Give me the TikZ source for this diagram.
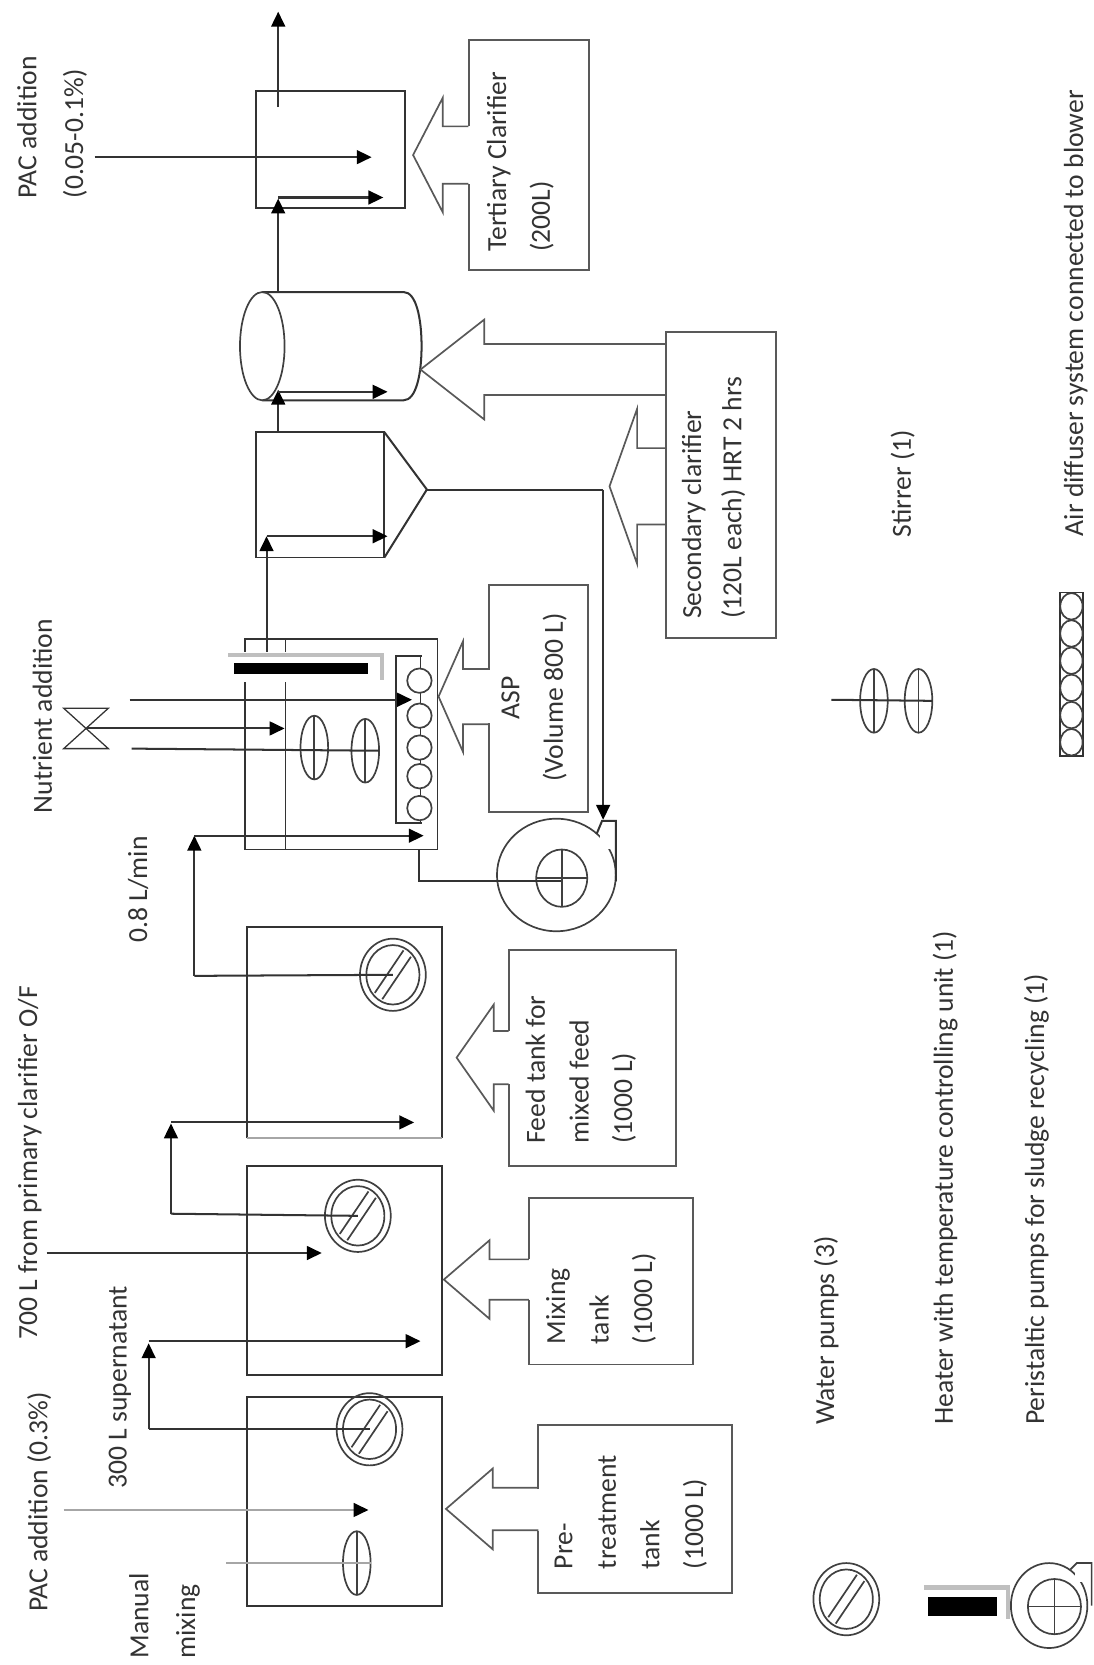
\documentclass[tikz,border=0pt]{standalone}
\usepackage{fontspec}
\setmainfont{Carlito}
\usetikzlibrary{arrows.meta,calc,shapes.geometric}

\newcommand{\labelfont}{\fontsize{26}{41}\selectfont}

\tikzset{
  pipe/.style={line width=1.9pt, draw=black!80},
  thinpipe/.style={line width=1.9pt, draw=black!35},
  arrow/.style={pipe, ->, >={Triangle[length=14pt,width=13pt,color=black,fill=black]}},
  greyarrow/.style={thinpipe, ->, >={Triangle[length=14pt,width=13pt,color=black,fill=black]}},
  tank/.style={rectangle, draw=black!80, line width=1.8pt, inner sep=0pt, outer sep=0pt},
  callbox/.style={rectangle, draw=black!65, line width=1.8pt, inner sep=0pt, outer sep=0pt},
  lbl/.style={rotate=90, anchor=west, inner sep=0pt, align=left, text=black!80, font=\labelfont},
  oval/.style={ellipse, draw=black!75, line width=1.6pt, inner sep=0pt, outer sep=0pt},
}

% big hollow arrow: tip x, y, head base x, head half, shaft half, box x
\newcommand{\bigarrow}[6]{
  \draw[draw=black!65, line width=1.6pt] (#6,#2-#5) -- (#3,#2-#5) -- (#3,#2-#4) -- (#1,#2)
    -- (#3,#2+#4) -- (#3,#2+#5) -- (#6,#2+#5);
}
% water pump: name, centre
\newcommand{\waterpump}[2]{
  \node[oval, minimum width=62pt, minimum height=68pt] (#1) at #2 {};
  \node[oval, minimum width=50pt, minimum height=56pt] (#1eye) at (#1) {};
  \draw[oval] ([shift={(-17,17)}]#1.center) -- ([shift={(10,-23)}]#1.center);
  \draw[oval] ([shift={(-10,23)}]#1.center) -- ([shift={(17,-17)}]#1.center);
}
% stirrer paddle: name, centre
\newcommand{\paddle}[2]{
  \node[oval, minimum width=26pt, minimum height=60pt] (#1) at #2 {};
  \draw[oval] (#1.north) -- (#1.south);
}

\begin{document}
\begin{tikzpicture}[x=1pt, y=-1pt]
  \useasboundingbox (0,0) rectangle (1030,1568);

  % Tanks, left to right on the page's long side
  \node[tank, minimum width=183pt, minimum height=196pt] (pretreat) at (324.5,1414) {};
  \node[tank, minimum width=183pt, minimum height=197pt] (mixing)   at (324.5,1196.5) {};
  \draw[tank] (233,1072) -- (233,873) -- (416,873) -- (416,1072);
  \draw[thinpipe] (233,1072) -- (416,1072);
  \coordinate (feedtank) at (324.5,972.5);
  \node[tank, minimum width=181pt, minimum height=198pt] (asp) at (321.5,701) {};
  \draw[tank, line width=1.2pt] (269,602) -- (269,800);
  \node[tank, minimum width=121pt, minimum height=118pt] (clarifier) at (301.5,466) {};
  \draw[pipe] (362,407) -- (402,461) -- (362,525);
  \draw[pipe] (247,275) -- (380,275) .. controls (392,275) and (397,300) .. (397,326)
    .. controls (397,352) and (392,377) .. (380,377) -- (247,377);
  \node[oval, minimum width=42pt, minimum height=102pt] (drum) at (247,326) {};
  \node[tank, minimum width=140pt, minimum height=110pt] (tertiary) at (311,141) {};

  % Callout boxes
  \node[callbox, minimum width=182pt, minimum height=158pt] (pretreatbox) at (598,1421) {};
  \node[callbox, minimum width=155pt, minimum height=157pt] (mixingbox)   at (575.5,1206.5) {};
  \node[callbox, minimum width=158pt, minimum height=203pt] (feedbox)     at (558,996.5) {};
  \node[callbox, minimum width=93pt,  minimum height=214pt] (aspbox)      at (507,657.5) {};
  \node[callbox, minimum width=104pt, minimum height=288pt] (secondbox)   at (679,457) {};
  \node[callbox, minimum width=113pt, minimum height=216pt] (tertiarybox) at (498,146) {};
  \fill[white] (459,631) rectangle (463,681);
  \fill[white] (505,1402) rectangle (509,1442);
  \fill[white] (496,1186) rectangle (500,1224);
  \fill[white] (477,971) rectangle (481,1021);
  \fill[white] (439,119) rectangle (443,173);
  \bigarrow{420}{1421}{464}{38}{20}{507}
  \bigarrow{418}{1205}{461}{37}{19}{498}
  \bigarrow{430}{996}{465}{50}{25}{479}
  \bigarrow{413}{656}{436}{52}{26}{460}
  \bigarrow{396}{348}{456}{47}{24}{627}
  \bigarrow{574}{458}{600}{73}{36}{627}
  \bigarrow{389}{146}{417}{54}{27}{441}

  % Pumps in the tanks
  \waterpump{pumpa}{(348,1346)}
  \waterpump{pumpb}{(337,1145)}
  \waterpump{pumpc}{(370,918)}

  % Stirrers
  \paddle{manual}{(336,1472)}
  \paddle{stirA}{(296,704)}
  \paddle{stirB}{(344,707)}

  % Air diffuser in the ASP
  \draw[pipe, line width=1.5pt] (397,618) -- (373,618) -- (373,775) -- (397,775);
  \draw[pipe, line width=1.5pt] (396,618) -- (396,775);
  \foreach \name/\y in {a/641, b/674, c/704, d/731, e/761}
    \node[oval, fill=white, minimum width=23pt, minimum height=23pt] (air\name) at (395,\y) {};

  % Free ends and corners
  \foreach \name/\x/\y in {pacin/60/1422, pacend/347/1422, manualin/213/1472,
      cornera/140/1346, risera/140/1265, landa/140/1263, enda/396/1263,
      cornerb/161/1143, riserb/161/1058, landb/161/1057, endb/390/1057,
      primaryin/44/1180, primaryend/303/1180,
      cornerc/183/919, riserc/183/787, landc/183/787, endc/399/787,
      nutrientin/122/659, nutrientend/388/659, valveend/268/686, stirin/124/705,
      heatout/251/617, riserd/251/505, landd/251/505, endd/365/505,
      clarout/262/407, risere/262/367, lande/262/369, ende/365/369,
      drumout/262/275, riserf/262/187, landf/262/186, endf/361/186,
      effluent/262/101, effluentend/262/11, pacbin/89/148, pacbend/350/148,
      recyclecorner/568/461, recycleend/568/772, aspout/395/800, blowin/395/830, blowhub/528/830}
    \coordinate (\name) at (\x,\y);

  % Connectors
  \draw[greyarrow] (pacin) -- (pacend);
  \draw[thinpipe] (manualin) -- (manual.east);
  \draw[pipe] (pumpa.center) -- (cornera);
  \draw[arrow] (cornera) -- (risera);
  \draw[arrow] (landa) -- (enda);
  \draw[pipe] (pumpb.center) -- (cornerb);
  \draw[arrow] (cornerb) -- (riserb);
  \draw[arrow] (landb) -- (endb);
  \draw[arrow] (primaryin) -- (primaryend);
  \draw[pipe] (pumpc.center) -- (cornerc);
  \draw[arrow] (cornerc) -- (riserc);
  \draw[arrow] (landc) -- (endc);
  \draw[arrow] (nutrientin) -- (nutrientend);
  \draw[pipe] (stirin) -- (stirB.east);
  \draw[arrow] (heatout) -- (riserd);
  \draw[arrow] (landd) -- (endd);
  \draw[arrow] (clarout) -- (risere);
  \draw[arrow] (lande) -- (ende);
  \draw[arrow] (drumout) -- (riserf);
  \draw[arrow] (landf) -- (endf);
  \draw[arrow] (effluent) -- (effluentend);
  \draw[arrow] (pacbin) -- (pacbend);
  \draw[pipe] (402,461) -- (recyclecorner);
  \draw[arrow] (recyclecorner) -- (recycleend);

  % Valve on the nutrient line
  \coordinate (valve) at (82,686);
  \draw[pipe, line width=1.2pt] (60,667) -- (102,667) -- (60,705) -- (102,705) -- cycle;
  \draw[arrow] (valve) -- (valveend);

  % Heater in the ASP
  \fill[white] (214,614) rectangle (362,642);
  \draw[draw=black!25, line width=4pt] (215,617) -- (360,617) -- (360,640);
  \node[rectangle, fill=black, inner sep=0pt, minimum width=126pt, minimum height=11pt] (heater) at (283.5,629.5) {};

  % Sludge pump
  \node[oval, draw=black!75, minimum width=112pt, minimum height=106pt] (blower) at (524,824) {};
  \fill[white] (565,778) rectangle (580,800);
  \draw[pipe] (562,785) -- (567,773) -- (580,773) -- (580,830);
  \node[oval, draw=black!75, minimum width=48pt, minimum height=54pt] (blowereye) at (529,827) {};
  \draw[oval] (blowereye.north) -- (blowereye.south);
  \draw[oval] (blowereye.west) -- (blowereye.east);
  \draw[pipe] (aspout) -- (blowin) -- (blowhub);

  % Legend symbols
  \waterpump{legendpump}{(797,1506)}
  \draw[draw=black!25, line width=4pt] (870,1495) -- (949,1495) -- (949,1525);
  \node[rectangle, fill=black, inner sep=0pt, minimum width=65pt, minimum height=18pt] (legendheater) at (906.5,1513) {};
  \node[oval, minimum width=72pt, minimum height=80pt] (legendblower) at (988,1512) {};
  \fill[white] (1012,1470) rectangle (1029,1490);
  \draw[oval] (1008,1478) -- (1014,1472) -- (1028,1472) -- (1028,1512);
  \node[oval, minimum width=50pt, minimum height=52pt] (legendblowereye) at (993,1513) {};
  \draw[oval] (legendblowereye.north) -- (legendblowereye.south);
  \draw[oval] (legendblowereye.west) -- (legendblowereye.east);
  \paddle{legendstirA}{(823,660)}
  \paddle{legendstirB}{(865,660)}
  \coordinate (legendstirin) at (783,659);
  \draw[pipe] (legendstirin) -- (legendstirB.east);
  \node[tank, minimum width=22pt, minimum height=154pt] (legendair) at (1009,635) {};
  \foreach \n in {0,...,5}
    \node[oval, minimum width=21pt, minimum height=25pt] (legendair\n) at (1009,571+25.6*\n) {};

  % Labels
  \node[lbl] (lblpaca) at (37,1518) {PAC addition (0.3\%)};
  \node[lbl] (lblmanual) at (155,1562) {Manual\\[3pt]mixing};
  \node[lbl] (lblsuper) at (113,1402) {300 L supernatant};
  \node[lbl] (lblprimary) at (28,1262) {700 L from primary clarifier O/F};
  \node[lbl] (lblflow) at (130,888) {0.8 L/min};
  \node[lbl] (lblnutrient) at (40,766) {Nutrient addition};
  \node[lbl] (lblpacb) at (49,187) {PAC addition\\[3pt](0.05-0.1\%)};
  \node[lbl] (lblpre) at (594,1478) {Pre-\\treatment\\tank\\(1000 L)};
  \node[lbl] (lblmix) at (566,1266) {Mixing\\tank\\(1000 L)};
  \node[lbl] (lblfeed) at (547,1077) {Feed tank for\\mixed feed\\(1000 L)};
  \node[lbl, anchor=center, align=center] (lblasp) at (503,657) {ASP\\(Volume 800 L)};
  \node[lbl] (lblsecond) at (672,583) {Secondary clarifier\\[-3pt](120L each) HRT 2 hrs};
  \node[lbl] (lbltertiary) at (490,237) {Tertiary Clarifier\\(200L)};
  \node[lbl] (lblwater) at (778,1342) {Water pumps (3)};
  \node[lbl] (lblheater) at (890,1342) {Heater with temperature controlling unit (1)};
  \node[lbl] (lblperi) at (976,1342) {Peristaltic pumps for sludge recycling (1)};
  \node[lbl] (lblstir) at (850,506) {Stirrer (1)};
  \node[lbl] (lblair) at (1013,505) {Air diffuser system connected to blower};
\end{tikzpicture}
\end{document}
